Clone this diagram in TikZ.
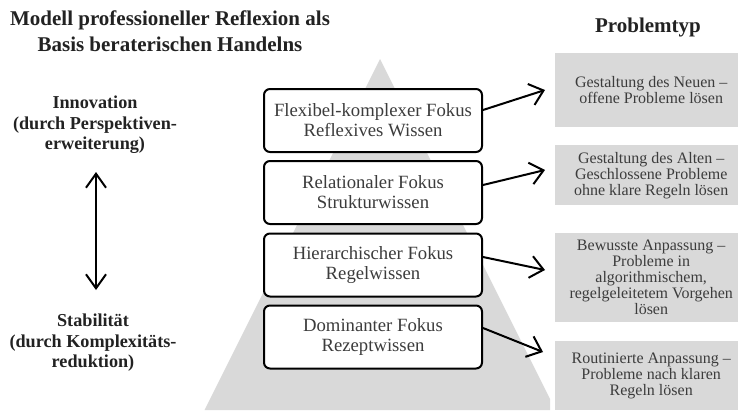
\documentclass[tikz,border=0pt]{standalone}
\usepackage{fontspec}
\setmainfont{Liberation Serif}
\usetikzlibrary{arrows.meta}
\definecolor{panel}{HTML}{D9D9D9}
\definecolor{ink}{HTML}{3C3C3C}
\definecolor{head}{HTML}{222222}

\begin{document}
\begin{tikzpicture}[x=1pt,y=-1pt,
  focusbox/.style={draw=black, line width=2pt, rounded corners=6pt, fill=white,
    minimum width=218pt, minimum height=63pt, align=center, text=ink,
    font=\fontsize{18.7}{20}\selectfont, inner sep=0pt},
  typebox/.style={fill=panel, minimum width=192pt, align=center, text=ink,
    font=\fontsize{16}{16}\selectfont, inner sep=0pt, anchor=north west},
  heading/.style={font=\bfseries\fontsize{21}{26}\selectfont, text=head, align=center},
  pole/.style={font=\bfseries\fontsize{18.2}{20.5}\selectfont, text=head, align=center},
  link/.style={line width=2pt, -{Straight Barb[length=13pt,width=22pt]}},
  swing/.style={line width=2pt, {Straight Barb[length=14pt,width=20pt]}-{Straight Barb[length=14pt,width=20pt]}},
]
\useasboundingbox (0,0) rectangle (738,410);

% background pyramid
\fill[panel] (380,59) -- (550,399) -- (550,410) -- (204.5,410) -- cycle;

% headings
\node[heading] (title) at (170,31) {Modell professioneller Reflexion als\\Basis beraterischen Handelns};
\node[heading] (ptype) at (648,27) {Problemtyp};

% poles of the scale
\node[pole] (innov) at (95,125) {Innovation\\(durch Perspektiven-\\erweiterung)};
\node[pole] (stab) at (93,343) {Stabilität\\(durch Komplexitäts-\\reduktion)};
\coordinate (up) at (96,172);
\coordinate (down) at (96,290);
\draw[swing] (up) -- (down);

% focus levels
\node[focusbox] (b1) at (373,120.5) {Flexibel-komplexer Fokus\\Reflexives Wissen};
\node[focusbox] (b2) at (373,192.5) {Relationaler Fokus\\Strukturwissen};
\node[focusbox] (b3) at (373,265) {Hierarchischer Fokus\\Regelwissen};
\node[focusbox] (b4) at (373,337) {Dominanter Fokus\\Rezeptwissen};

% problem types
\node[typebox, minimum height=74pt] (t1) at (555,53) {Gestaltung des Neuen –\\offene Probleme lösen};
\node[typebox, minimum height=60pt] (t2) at (555,145) {Gestaltung des Alten –\\Geschlossene Probleme\\ohne klare Regeln lösen};
\node[typebox, minimum height=89pt] (t3) at (555,233) {Bewusste Anpassung –\\Probleme in\\algorithmischem,\\regelgeleitetem Vorgehen\\lösen};
\node[typebox, minimum height=69pt] (t4) at (555,341) {Routinierte Anpassung –\\Probleme nach klaren\\Regeln lösen};

% arrow tips in front of the problem types
\coordinate (e1) at (545,90);
\coordinate (e2) at (545,170);
\coordinate (e3) at (545,270);
\coordinate (e4) at (543,352);

\draw[link] ([yshift=10.5pt]b1.east) -- (e1);
\draw[link] ([yshift=7.5pt]b2.east) -- (e2);
\draw[link] ([yshift=8pt]b3.east) -- (e3);
\draw[link] ([yshift=9pt]b4.east) -- (e4);
\end{tikzpicture}
\end{document}
